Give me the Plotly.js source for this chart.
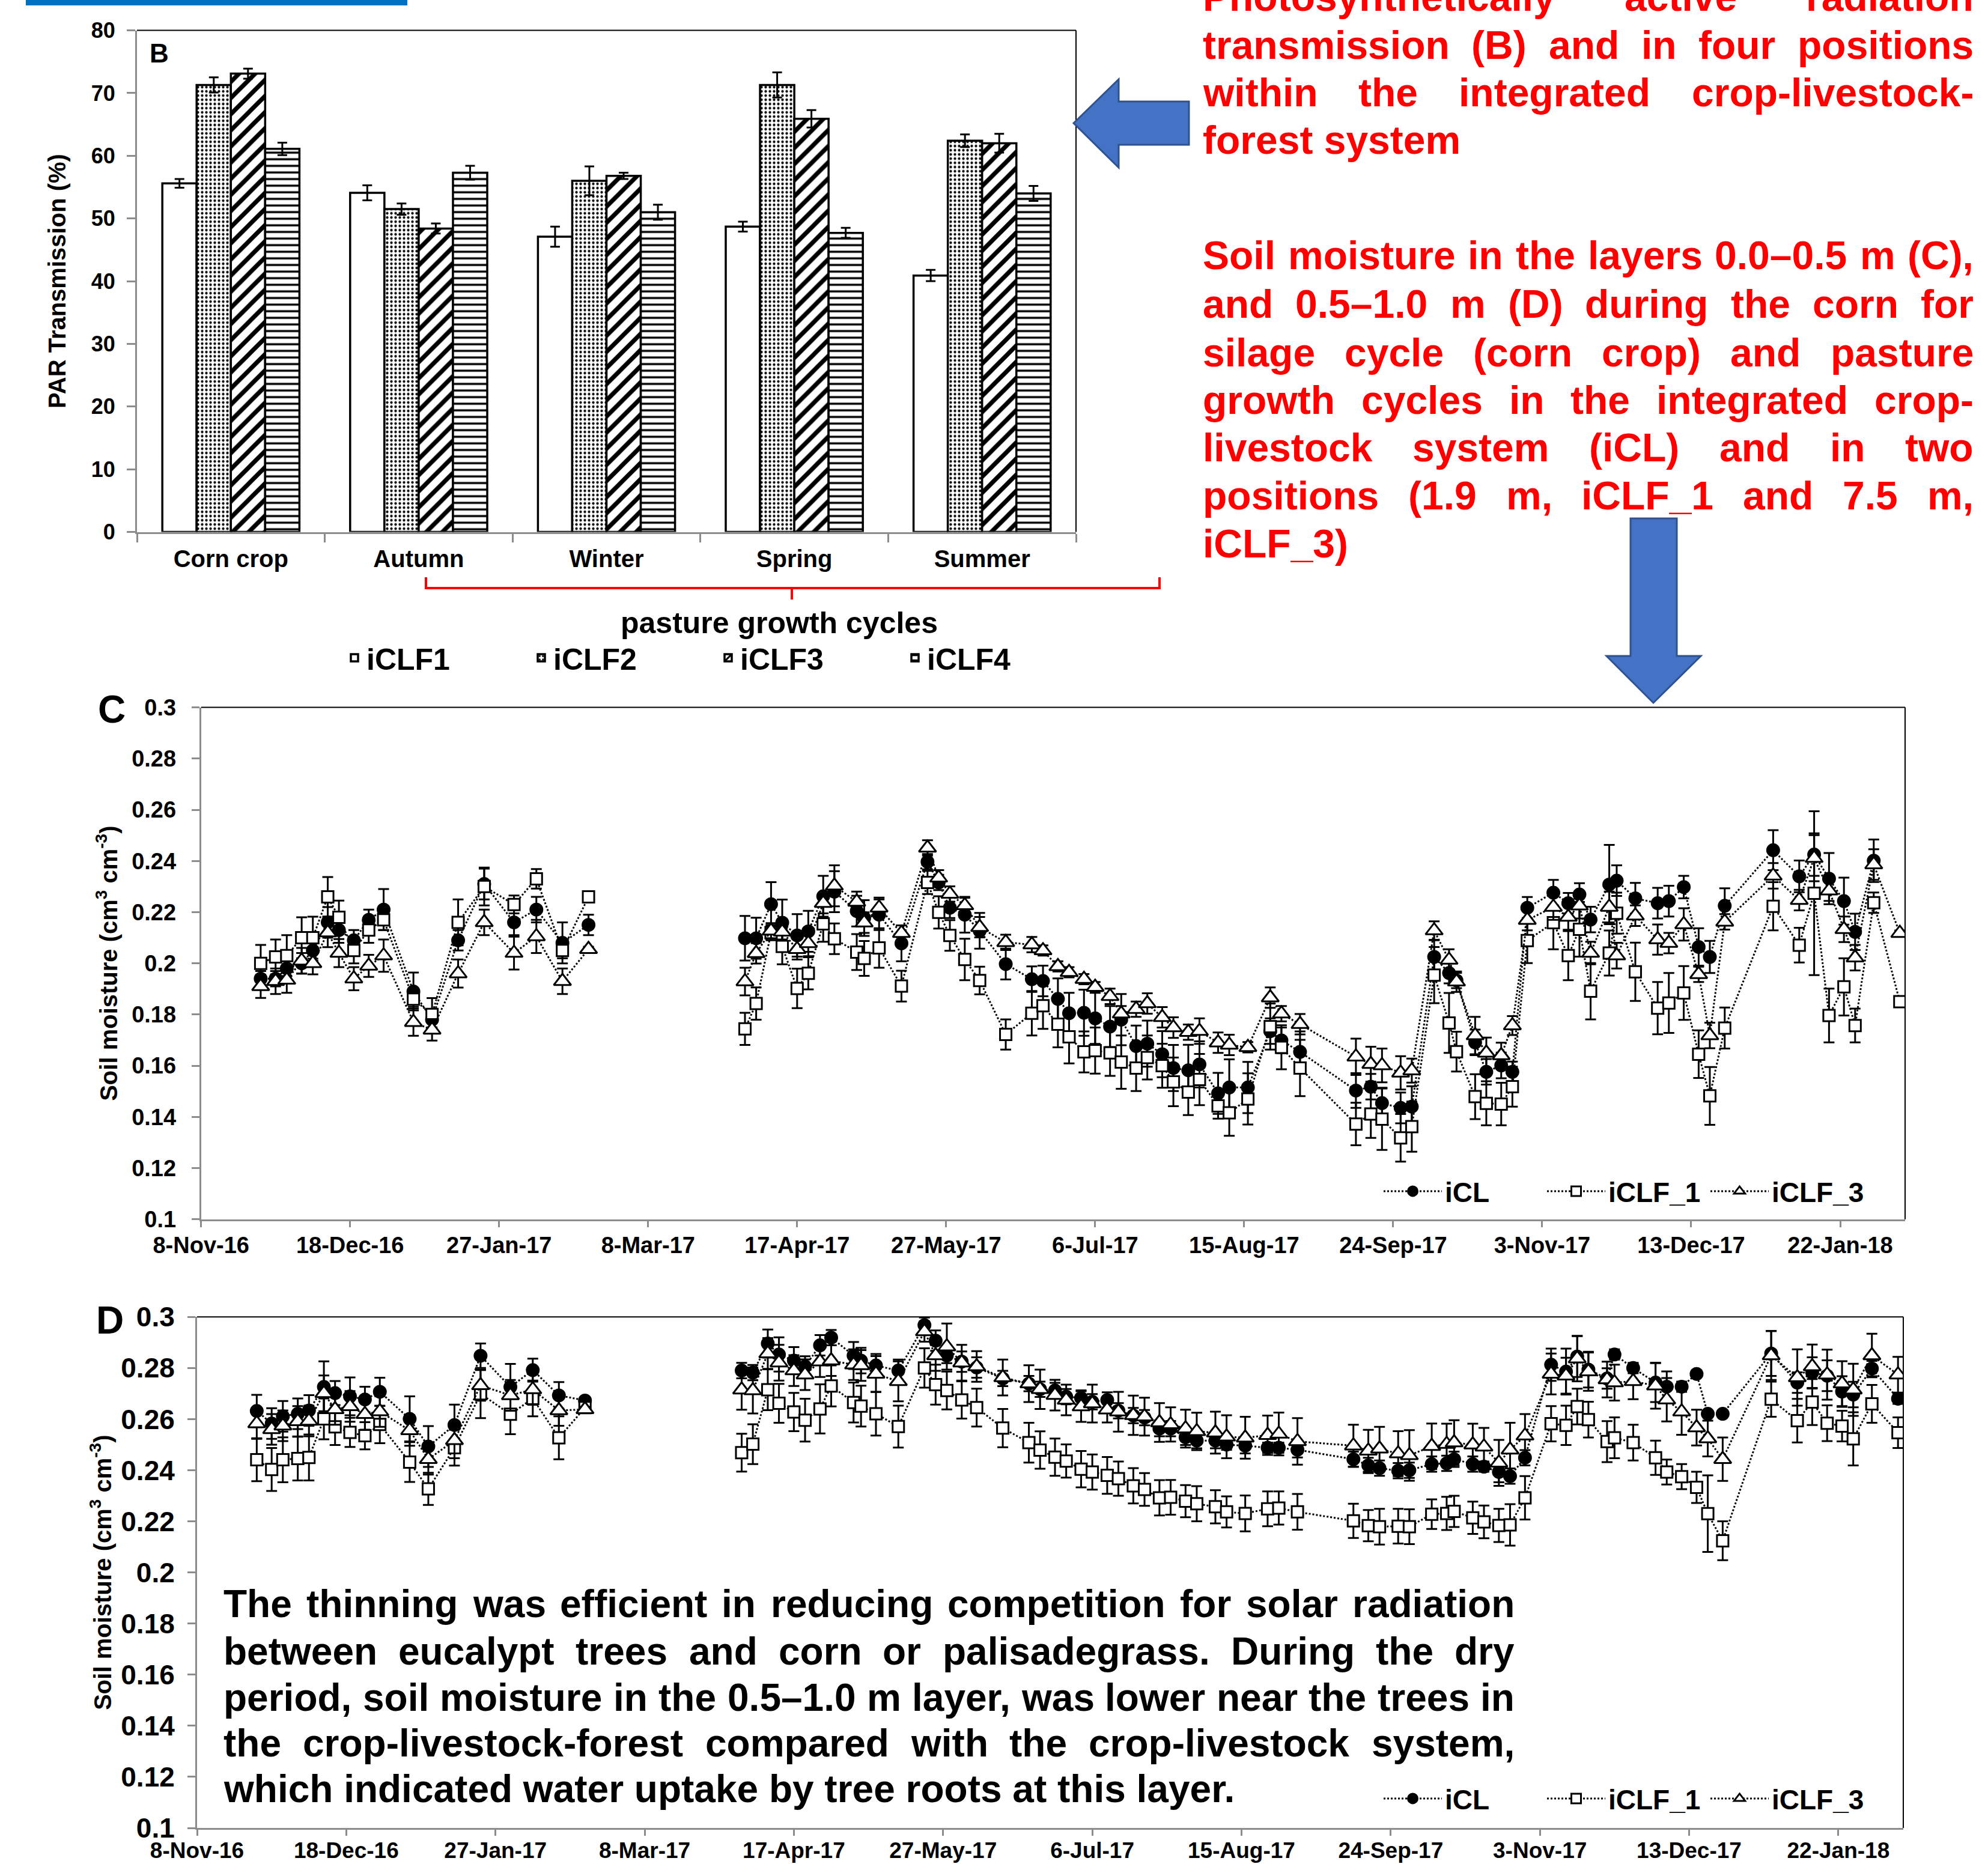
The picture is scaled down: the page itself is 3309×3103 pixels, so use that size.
<!DOCTYPE html>
<html><head><meta charset="utf-8">
<script src="https://cdn.plot.ly/plotly-3.0.1.min.js"></script>
<style>html,body{margin:0;padding:0;background:#fff;overflow:hidden}#chart{width:3309px;height:3103px}</style>
</head><body><div id="chart"></div>
<script>
// ---------------- DATA: panel B (PAR transmission) ----------------
const CATEGORIES = ['Corn crop', 'Autumn', 'Winter', 'Spring', 'Summer'];
const PAR_ICLF1 = [55.6, 54.1, 47.1, 48.7, 40.9];
const PAR_ICLF2 = [71.3, 51.5, 56.0, 71.3, 62.4];
const PAR_ICLF3 = [73.1, 48.4, 56.8, 65.9, 62.0];
const PAR_ICLF4 = [61.1, 57.3, 51.0, 47.7, 54.0];
const PAR_ICLF1_ERR = [0.7, 1.2, 1.6, 0.8, 0.9];
const PAR_ICLF2_ERR = [1.2, 0.9, 2.3, 2.0, 1.0];
const PAR_ICLF3_ERR = [0.8, 0.8, 0.5, 1.4, 1.5];
const PAR_ICLF4_ERR = [1.0, 1.1, 1.2, 0.8, 1.2];
const BAR_NAMES = ['iCLF1', 'iCLF2', 'iCLF3', 'iCLF4'];

// ---------------- DATA: sampling dates (two campaigns) ----------------
const DATES_1 = ['2016-11-24','2016-11-28','2016-12-01','2016-12-05','2016-12-08','2016-12-12','2016-12-15','2016-12-19','2016-12-23','2016-12-27','2017-01-04','2017-01-09','2017-01-16','2017-01-23','2017-01-31','2017-02-06','2017-02-13','2017-02-20'];
const DATES_2 = ['2017-04-03','2017-04-06','2017-04-10','2017-04-13','2017-04-17','2017-04-20','2017-04-24','2017-04-27','2017-05-03','2017-05-05','2017-05-09','2017-05-15','2017-05-22','2017-05-25','2017-05-28','2017-06-01','2017-06-05','2017-06-12','2017-06-19','2017-06-22','2017-06-26','2017-06-29','2017-07-03','2017-07-06','2017-07-10','2017-07-13','2017-07-17','2017-07-20','2017-07-24','2017-07-27','2017-07-31','2017-08-03','2017-08-08','2017-08-11','2017-08-16','2017-08-22','2017-08-25','2017-08-30',
'2017-09-14','2017-09-18','2017-09-21','2017-09-26','2017-09-29','2017-10-05','2017-10-09','2017-10-11','2017-10-16','2017-10-19','2017-10-23','2017-10-26','2017-10-30','2017-11-06','2017-11-10','2017-11-13','2017-11-16','2017-11-21','2017-11-23','2017-11-28','2017-12-04','2017-12-07','2017-12-11','2017-12-15','2017-12-18','2017-12-22','2018-01-04','2018-01-11','2018-01-15','2018-01-19','2018-01-23','2018-01-26','2018-01-31','2018-02-07'];
const SERIES_NAMES = ['iCL', 'iCLF_1', 'iCLF_3'];

// ---------------- DATA: panel C (0.0-0.5 m) ----------------
const C_ICL_1   = [0.194,0.194,0.198,0.200,0.205,0.216,0.213,0.209,0.217,0.221,0.189,0.178,0.209,0.231,0.216,0.221,0.208,0.215];
const C_ICLF1_1 = [0.200,0.2025,0.203,0.210,0.210,0.226,0.218,0.205,0.213,0.217,0.186,0.180,0.216,0.230,0.223,0.233,0.205,0.226];
const C_ICLF3_1 = [0.191,0.193,0.1935,0.201,0.200,0.212,0.204,0.194,0.199,0.203,0.177,0.174,0.196,0.216,0.204,0.2105,0.193,0.2055];
const C_ICL_2 = [0.2098,0.2098,0.2231,0.2159,0.2109,0.2125,0.2262,0.228,0.2204,0.2177,0.219,0.2078,0.2397,0.2316,0.2217,0.2190,0.2127,0.1997,0.1938,0.1931,0.1861,0.1805,0.1807,0.1785,0.1753,0.1780,0.1677,0.1686,0.1645,0.1591,0.1582,0.1605,0.1492,0.1515,0.1515,0.1735,0.1699,0.1654,
 0.1503,0.1518,0.1454,0.1435,0.1440,0.2025,0.1962,0.1933,0.1691,0.1576,0.1601,0.1576,0.2217,0.2276,0.2235,0.2269,0.2171,0.2308,0.2323,0.2254,0.2235,0.2243,0.2298,0.2064,0.2025,0.2225,0.2442,0.2340,0.2425,0.2331,0.2243,0.2123,0.2401,null];
const C_ICLF1_2 = [0.1744,0.1843,0.212,0.2066,0.1902,0.1961,0.2154,0.2096,0.2044,0.2019,0.2060,0.1911,0.2316,0.2199,0.2109,0.2015,0.1933,0.1722,0.1805,0.1834,0.1762,0.1713,0.1654,0.1659,0.1650,0.1614,0.1591,0.1632,0.1600,0.1537,0.1497,0.1546,0.1443,0.1416,0.1470,0.1753,0.1672,0.1591,
 0.1372,0.1411,0.1391,0.1318,0.1362,0.1954,0.1767,0.1655,0.1479,0.1453,0.1450,0.1518,0.2089,0.2159,0.2030,0.2133,0.1891,0.2040,0.2196,0.1967,0.1825,0.1845,0.1884,0.1645,0.1482,0.1747,0.2223,0.2071,0.2274,0.1796,0.1908,0.1757,0.2237,0.1850];
const C_ICLF3_2 = [0.1929,0.2039,0.2127,0.2123,0.2055,0.2078,0.2235,0.2303,0.2240,0.2159,0.2217,0.2118,0.2451,0.2334,0.2271,0.2226,0.2141,0.2082,0.2073,0.2050,0.1988,0.1965,0.1938,0.1907,0.1871,0.1803,0.1821,0.1843,0.1789,0.1749,0.1731,0.1735,0.1690,0.1681,0.1672,0.1866,0.1803,0.1762,
 0.1635,0.1606,0.1601,0.1572,0.1581,0.2128,0.2013,0.1928,0.1718,0.1650,0.1640,0.1757,0.2169,0.2220,0.2181,0.2225,0.2040,0.2220,0.2030,0.2186,0.2093,0.2079,0.2152,0.1957,0.1718,0.2162,0.2342,0.2247,0.2411,0.2284,0.2133,0.2022,0.2386,0.2118];
const C_ICL_E1   = [0.003,0.003,0.003,0.004,0.004,0.006,0.005,0.004,0.004,0.008,0.0074,0.003,0.004,0.006,0.005,0.005,0.008,0.004];
const C_ICLF1_E1 = [0.0072,0.0068,0.008,0.008,0.0082,0.0077,0.0065,0.005,0.005,0.004,0.003,0.0064,0.009,0.0074,0.0035,0.0038,0.003,0.001];
const C_ICLF3_E1 = [0.0045,0.005,0.005,0.005,0.0043,0.0057,0.0055,0.0045,0.0043,0.0063,0.0053,0.0042,0.0055,0.005,0.0064,0.0065,0.005,0.001];
const C_ICL_E2 = [0.0087,0.008,0.0086,0.009,0.0083,0.008,0.008,0.008,0.006,0.007,0.006,0.007,0.003,0.003,0.004,0.007,0.007,0.006,0.005,0.006,0.008,0.008,0.009,0.01,0.008,0.01,0.008,0.009,0.009,0.009,0.01,0.009,0.008,0.011,0.01,0.005,0.005,0.008,
 0.0068,0.005,0.006,0.006,0.008,0.0065,0.004,0.003,0.005,0.005,0.005,0.004,0.0042,0.005,0.004,0.0044,0.005,0.0155,0.006,0.006,0.006,0.006,0.0044,0.0073,0.0063,0.0068,0.0078,0.0062,0.0083,0.01,0.0092,0.0071,0.0083,0];
const C_ICLF1_E2 = [0.0063,0.0063,0.003,0.007,0.0077,0.0063,0.007,0.006,0.007,0.0068,0.0077,0.006,0.0045,0.0063,0.006,0.0081,0.0054,0.0059,0.0087,0.009,0.009,0.0104,0.008,0.009,0.009,0.0104,0.009,0.0086,0.0086,0.0095,0.009,0.01,0.005,0.009,0.01,0.009,0.0086,0.011,
 0.0083,0.0093,0.012,0.0093,0.0098,0.011,0.0117,0.0078,0.0088,0.0086,0.0083,0.0078,0.0088,0.0104,0.0096,0.0107,0.011,0.0088,0.008,0.0114,0.0102,0.0117,0.0105,0.0093,0.0113,0.008,0.0094,0.0068,0.032,0.0105,0.0112,0.0066,0.004,0.001];
const C_ICLF3_E2 = [0.0054,0.004,0.003,0.003,0.004,0.005,0.004,0.008,0.004,0.004,0.004,0.003,0.003,0.003,0.003,0.003,0.004,0.003,0.003,0.002,0.002,0.002,0.002,0.002,0.003,0.003,0.003,0.004,0.004,0.004,0.003,0.005,0.004,0.004,0.002,0.004,0.003,0.004,
 0.0071,0.0068,0.0066,0.0065,0.0047,0.0036,0.0042,0.004,0.0073,0.006,0.005,0.0037,0.004,0.005,0.005,0.005,0.0044,0.006,0.005,0.004,0.0059,0.004,0.0063,0.003,0.005,0.003,0.005,0.004,0.009,0.004,0.005,0.005,0.006,0.001];

// ---------------- DATA: panel D (0.5-1.0 m) ----------------
const D_ICL_1   = [0.2632,0.2583,0.2611,0.2621,0.2634,0.2726,0.2702,0.2689,0.2677,0.2707,0.2601,0.2493,0.2577,0.2848,0.2726,0.2792,0.2693,0.2673];
const D_ICLF1_1 = [0.2441,0.2403,0.2441,0.2446,0.2450,0.2601,0.2570,0.2548,0.2535,0.2579,0.2432,0.2327,0.2488,0.2699,0.2619,0.2681,0.2527,0.2645];
const D_ICLF3_1 = [0.2583,0.2560,0.2574,0.2591,0.2593,0.2701,0.2638,0.2650,0.2619,0.2630,0.2556,0.2443,0.2517,0.2732,0.2693,0.2716,0.2634,0.2638];
const D_ICL_2 = [0.2790,0.2782,0.2896,0.2853,0.2829,0.2806,0.2889,0.2919,0.2849,0.2829,0.2810,0.2790,0.2968,0.2907,0.2849,0.2825,0.2802,0.2759,0.2739,0.2717,0.2712,0.2688,0.2683,0.2668,0.2675,0.2633,0.2614,0.2606,0.2563,0.2563,0.2529,0.2516,0.2516,0.2500,0.2496,0.2488,0.2488,0.2480,
 0.2443,0.2419,0.2408,0.2398,0.2400,0.2424,0.2427,0.2443,0.2424,0.2414,0.2393,0.2377,0.2449,0.2813,0.2786,0.2845,0.2794,0.2759,0.2853,0.2800,0.2743,0.2727,0.2727,0.2777,0.2621,0.2621,0.2857,0.2743,0.2782,0.2770,0.2708,0.2696,0.2798,0.2680];
const D_ICLF1_2 = [0.2469,0.2502,0.2715,0.2662,0.2628,0.2596,0.2640,0.2730,0.2665,0.2651,0.2621,0.2571,0.2800,0.2735,0.2712,0.2675,0.2645,0.2565,0.2508,0.2479,0.2451,0.2436,0.2404,0.2393,0.2380,0.2367,0.2339,0.2325,0.2292,0.2294,0.2279,0.2269,0.2257,0.2237,0.2231,0.2249,0.2252,0.2237,
 0.2202,0.2183,0.2179,0.2181,0.2179,0.2228,0.2231,0.2239,0.2214,0.2198,0.2184,0.2186,0.2292,0.2582,0.2576,0.2649,0.2598,0.2512,0.2527,0.2508,0.2449,0.2393,0.2375,0.2333,0.2230,0.2124,0.2678,0.2594,0.2667,0.2584,0.2573,0.2523,0.2660,0.2547];
const D_ICLF3_2 = [0.2715,0.2712,0.2857,0.2821,0.2790,0.2774,0.2825,0.2829,0.2813,0.2810,0.2777,0.2748,0.2943,0.2849,0.2884,0.2821,0.2806,0.2763,0.2739,0.2717,0.2694,0.2675,0.2649,0.2661,0.2637,0.2629,0.2615,0.2610,0.2587,0.2579,0.2563,0.2552,0.2547,0.2531,0.2527,0.2537,0.2542,0.2513,
 0.2496,0.2476,0.2484,0.2465,0.2458,0.2494,0.2502,0.2508,0.2500,0.2492,0.2429,0.2480,0.2535,0.2777,0.2770,0.2837,0.2786,0.2755,0.2743,0.2748,0.2731,0.2676,0.2629,0.2567,0.2524,0.2443,0.2849,0.2763,0.2806,0.2774,0.2739,0.2715,0.2849,0.2774];
const D_ICL_E1   = [0.0063,0.006,0.006,0.006,0.006,0.010,0.0047,0.0074,0.005,0.0055,0.0088,0.008,0.008,0.0048,0.009,0.0045,0.0052,0.001];
const D_ICLF1_E1 = [0.0084,0.0084,0.0088,0.0086,0.009,0.008,0.0071,0.0057,0.0053,0.0073,0.0078,0.0063,0.007,0.0095,0.0078,0.007,0.0084,0.001];
const D_ICLF3_E1 = [0.006,0.006,0.006,0.006,0.006,0.007,0.006,0.006,0.006,0.006,0.006,0.006,0.007,0.006,0.006,0.006,0.006,0.001];
const D_ICL_E2 = [0.003,0.003,0.0055,0.0067,0.0053,0.004,0.004,0.003,0.0053,0.005,0.0045,0.0043,0.003,0.004,0.003,0.004,0.004,0.003,0.003,0.003,0.003,0.003,0.003,0.003,0.003,0.003,0.003,0.003,0.003,0.003,0.003,0.003,0.003,0.002,0.003,0.002,0.002,0.003,
 0.003,0.003,0.003,0.003,0.003,0.003,0.003,0.003,0.003,0.002,0.004,0.003,0.003,0.0063,0.009,0.008,0.007,0.004,0.002,0.002,0.0076,0.006,0.002,0.001,0.001,0.001,0.0088,0.004,0.006,0.006,0.006,0.005,0.003,0.002];
const D_ICLF1_E2 = [0.0074,0.0078,0.008,0.0076,0.0075,0.0084,0.0096,0.008,0.0078,0.008,0.0085,0.0082,0.0077,0.0078,0.0074,0.0073,0.0074,0.0075,0.0078,0.0073,0.0073,0.0065,0.0071,0.0069,0.0072,0.0067,0.0069,0.0064,0.0069,0.0068,0.0063,0.0069,0.0065,0.0061,0.007,0.0068,0.0065,0.007,
 0.0067,0.0061,0.007,0.0068,0.0068,0.0058,0.0065,0.0061,0.0063,0.0064,0.0065,0.0081,0.0085,0.0069,0.0077,0.007,0.007,0.008,0.008,0.007,0.0067,0.0049,0.0049,0.0061,0.015,0.0076,0.0069,0.0085,0.009,0.007,0.006,0.0104,0.0074,0.006];
const D_ICLF3_E2 = [0.0078,0.009,0.006,0.007,0.006,0.006,0.006,0.006,0.006,0.006,0.007,0.0078,0.004,0.006,0.009,0.007,0.006,0.007,0.0072,0.0077,0.006,0.006,0.006,0.0074,0.005,0.0078,0.0077,0.0074,0.0076,0.0067,0.0074,0.0073,0.0082,0.0084,0.0082,0.0077,0.0084,0.0091,
 0.0082,0.0082,0.0086,0.0088,0.0099,0.0089,0.008,0.0088,0.0082,0.0074,0.009,0.0106,0.0085,0.008,0.007,0.0089,0.0075,0.007,0.007,0.007,0.009,0.0085,0.009,0.007,0.007,0.0085,0.0096,0.011,0.0086,0.0098,0.0088,0.0102,0.0085,0.007];

// ---------------- TEXT ----------------
const RED_LINES = [
  {t: 'Photosynthetically active radiation', y: -5, j: true},
  {t: 'transmission (B) and in four positions', y: 75, j: true},
  {t: 'within the integrated crop-livestock-', y: 154, j: true},
  {t: 'forest system', y: 233, j: false},
  {t: 'Soil moisture in the layers 0.0–0.5 m (C),', y: 425, j: true},
  {t: 'and 0.5–1.0 m (D) during the corn for', y: 506, j: true},
  {t: 'silage cycle (corn crop) and pasture', y: 587, j: true},
  {t: 'growth cycles in the integrated crop-', y: 666, j: true},
  {t: 'livestock system (iCL) and in two', y: 745, j: true},
  {t: 'positions (1.9 m, iCLF_1 and 7.5 m,', y: 825, j: true},
  {t: 'iCLF_3)', y: 905, j: false}
];
const D_LINES = [
  {t: 'The thinning was efficient in reducing competition for solar radiation', y: 2670, j: true},
  {t: 'between eucalypt trees and corn or palisadegrass. During the dry', y: 2749, j: true},
  {t: 'period, soil moisture in the 0.5–1.0 m layer, was lower near the trees in', y: 2826, j: true},
  {t: 'the crop-livestock-forest compared with the crop-livestock system,', y: 2902, j: true},
  {t: 'which indicated water uptake by tree roots at this layer.', y: 2978, j: false}
];

// ---------------- LAYOUT HELPERS ----------------
const W = 3309, H = 3103;
const FONT = '"Liberation Sans", Arial, sans-serif';
const GRAY = '#8c8c8c';
const px = x => x / W;
const py = y => 1 - y / H;
const f = (size, color) => ({family: FONT, size: size, color: color || '#000', weight: 'bold'});

const traces = [];

// Bars (panel B)
const barVals = [PAR_ICLF1, PAR_ICLF2, PAR_ICLF3, PAR_ICLF4];
const barErrs = [PAR_ICLF1_ERR, PAR_ICLF2_ERR, PAR_ICLF3_ERR, PAR_ICLF4_ERR];
const patterns = [
  null,
  {shape: '.', size: 7, solidity: 0.3, fgcolor: '#000', bgcolor: '#fff', fillmode: 'replace'},
  {shape: '/', size: 19, solidity: 0.38, fgcolor: '#000', bgcolor: '#fff', fillmode: 'replace'},
  {shape: '-', size: 11, solidity: 0.32, fgcolor: '#000', bgcolor: '#fff', fillmode: 'replace'}
];
BAR_NAMES.forEach((name, i) => {
  const marker = {color: '#fff', line: {color: '#000', width: 3.5}};
  if (patterns[i]) marker.pattern = patterns[i];
  traces.push({
    type: 'bar', name: name, x: CATEGORIES, y: barVals[i], xaxis: 'x', yaxis: 'y', legend: 'legend',
    marker: marker,
    error_y: {type: 'data', array: barErrs[i], visible: true, color: '#000', thickness: 3, width: 8}
  });
});

// Soil moisture (panels C and D)
const SYMBOLS = ['circle', 'square', 'triangle-up'];
const FILLS = ['#000', '#fff', '#fff'];
const SIZES = [20, 19, 25];
function soil(seg1, seg2, err1, err2, k, xa, ya, leg) {
  traces.push({
    type: 'scatter', mode: 'lines+markers', name: SERIES_NAMES[k],
    x: DATES_1.concat([null], DATES_2),
    y: seg1.concat([null], seg2),
    xaxis: xa, yaxis: ya, legend: leg, connectgaps: false,
    line: {color: '#000', width: 3, dash: 'dot'},
    marker: {symbol: SYMBOLS[k], size: SIZES[k], color: FILLS[k], line: {color: '#000', width: 3}},
    error_y: {type: 'data', array: err1.concat([0], err2), visible: true, color: '#000', thickness: 3, width: 9}
  });
}
soil(C_ICL_1, C_ICL_2, C_ICL_E1, C_ICL_E2, 0, 'x2', 'y2', 'legend2');
soil(C_ICLF1_1, C_ICLF1_2, C_ICLF1_E1, C_ICLF1_E2, 1, 'x2', 'y2', 'legend2');
soil(C_ICLF3_1, C_ICLF3_2, C_ICLF3_E1, C_ICLF3_E2, 2, 'x2', 'y2', 'legend2');
soil(D_ICL_1, D_ICL_2, D_ICL_E1, D_ICL_E2, 0, 'x3', 'y3', 'legend3');
soil(D_ICLF1_1, D_ICLF1_2, D_ICLF1_E1, D_ICLF1_E2, 1, 'x3', 'y3', 'legend3');
soil(D_ICLF3_1, D_ICLF3_2, D_ICLF3_E1, D_ICLF3_E2, 2, 'x3', 'y3', 'legend3');

// ---------------- ANNOTATIONS ----------------
const annotations = [];
const ctx = document.createElement('canvas').getContext('2d');
function measure(t, size) { ctx.font = 'bold ' + size + 'px ' + FONT; return ctx.measureText(t).width; }
function ann(t, x, y, size, color, xanchor) {
  return {xref: 'paper', yref: 'paper', x: px(x), y: py(y), xanchor: xanchor || 'left', yanchor: 'middle',
          text: t, showarrow: false, font: f(size, color), borderpad: 0, borderwidth: 0};
}
function textBlock(lines, x0, x1, size, color) {
  lines.forEach(L => {
    if (!L.j) { annotations.push(ann(L.t, x0, L.y, size, color)); return; }
    const words = L.t.split(' ');
    const ws = words.map(w => measure(w, size));
    const total = ws.reduce((a, b) => a + b, 0);
    const gap = (x1 - x0 - total) / (words.length - 1);
    let x = x0;
    words.forEach((w, i) => { annotations.push(ann(w, x, L.y, size, color)); x += ws[i] + gap; });
  });
}
textBlock(RED_LINES, 2002, 3285, 66, '#ff0000');
textBlock(D_LINES, 372, 2521, 64, '#000');
annotations.push(ann('B', 249, 88, 44));
annotations.push(ann('C', 163, 1181, 64));
annotations.push(ann('D', 160, 2198, 64));
annotations.push(ann('pasture growth cycles', 1297, 1037, 50, '#000', 'center'));

// ---------------- SHAPES ----------------
function path(pts) { return 'M' + pts.map(p => px(p[0]) + ',' + py(p[1])).join(' L') + ' Z'; }
function line(x0, y0, x1, y1, color, width) {
  return {type: 'line', xref: 'paper', yref: 'paper', x0: px(x0), y0: py(y0), x1: px(x1), y1: py(y1), line: {color: color, width: width}};
}
const shapes = [
  {type: 'rect', xref: 'paper', yref: 'paper', x0: px(43), x1: px(678), y0: py(0), y1: py(9), fillcolor: '#0070c0', line: {width: 0}},
  line(228, 50.6, 1791, 50.6, '#000', 2), line(1791, 50.6, 1791, 885.5, '#000', 2),
  line(334.7, 1177.6, 3171, 1177.6, '#000', 2), line(3171, 1177.6, 3171, 2029.7, '#000', 2),
  line(328, 2192.3, 3168, 2192.3, '#000', 2), line(3168, 2192.3, 3168, 3043, '#000', 2),
  {type: 'path', xref: 'paper', yref: 'paper', path: 'M' + px(709) + ',' + py(961) + ' L' + px(709) + ',' + py(979) + ' L' + px(1930) + ',' + py(979) + ' L' + px(1930) + ',' + py(961), line: {color: '#ff0000', width: 4}},
  line(1318, 979, 1318, 998, '#ff0000', 4),
  {type: 'path', xref: 'paper', yref: 'paper', path: path([[1787, 205], [1862, 132], [1862, 169], [1979, 169], [1979, 241], [1862, 241], [1862, 279]]), fillcolor: '#4472c4', line: {color: '#2f528f', width: 3}},
  {type: 'path', xref: 'paper', yref: 'paper', path: path([[2714, 863], [2791, 863], [2791, 1092], [2831, 1092], [2752, 1170], [2674, 1092], [2714, 1092]]), fillcolor: '#4472c4', line: {color: '#2f528f', width: 3}}
];

// ---------------- AXES ----------------
const dateAxis = (d0, d1, stand, tsize) => ({
  type: 'date', domain: [px(d0), px(d1)], range: ['2016-11-08', '2018-02-08 10:00'],
  tick0: '2016-11-08', dtick: 40 * 86400000, tickformat: '%-d-%b-%y',
  showline: true, linecolor: GRAY, linewidth: 3, ticks: 'outside', ticklen: 10, tickwidth: 3, tickcolor: GRAY,
  tickfont: f(tsize), ticklabelstandoff: stand, showgrid: false, zeroline: false
});
const soilY = (top, bottom, tsize, standoff, lstand) => ({
  domain: [py(bottom), py(top)], range: [0.1, 0.3], dtick: 0.02,
  showline: true, linecolor: GRAY, linewidth: 3, ticks: 'outside', ticklen: 13, tickwidth: 3, tickcolor: GRAY,
  tickfont: f(tsize), ticklabelstandoff: lstand, showgrid: false, zeroline: false,
  title: {text: 'Soil moisture (cm<sup>3</sup> cm<sup>-3</sup>)', font: f(40), standoff: standoff}
});

const layout = {
  width: W, height: H, margin: {l: 0, r: 0, t: 0, b: 0, pad: 0},
  paper_bgcolor: '#fff', plot_bgcolor: '#fff',
  font: f(36),
  barmode: 'group', bargap: 0.27, bargroupgap: 0,
  xaxis: {domain: [px(228), px(1791)], anchor: 'y', type: 'category', range: [-0.5, 4.5],
          showline: true, linecolor: GRAY, linewidth: 3, ticks: 'outside', tickson: 'boundaries', ticklen: 14, tickwidth: 3, tickcolor: GRAY,
          tickfont: f(40), ticklabelstandoff: 7, showgrid: false, zeroline: false},
  yaxis: {domain: [py(885.5), py(50.6)], anchor: 'x', range: [0, 80], dtick: 10,
          showline: true, linecolor: GRAY, linewidth: 3, ticks: 'outside', ticklen: 14, tickwidth: 3, tickcolor: GRAY,
          tickfont: f(36), ticklabelstandoff: 12, showgrid: false, zeroline: false,
          title: {text: 'PAR Transmission (%)', font: f(40), standoff: 30}},
  xaxis2: Object.assign(dateAxis(334.7, 3171, -2, 38), {anchor: 'y2'}),
  yaxis2: Object.assign(soilY(1177.6, 2029.7, 38, 12, 18), {anchor: 'x2'}),
  xaxis3: Object.assign(dateAxis(328, 3168, -7, 37), {anchor: 'y3'}),
  yaxis3: Object.assign(soilY(2192.3, 3043, 46, 4, 12), {anchor: 'x3'}),
  legend: {orientation: 'h', x: px(570), y: py(1095), xanchor: 'left', yanchor: 'middle',
           font: f(50), bgcolor: 'rgba(0,0,0,0)', entrywidth: 266, entrywidthmode: 'pixels', itemwidth: 30, traceorder: 'normal'},
  legend2: {orientation: 'h', x: px(2298), y: py(1983), xanchor: 'left', yanchor: 'middle',
            font: f(46), bgcolor: 'rgba(0,0,0,0)', itemwidth: 97, entrywidth: 160, entrywidthmode: 'pixels', traceorder: 'normal'},
  legend3: {orientation: 'h', x: px(2298), y: py(2994), xanchor: 'left', yanchor: 'middle',
            font: f(46), bgcolor: 'rgba(0,0,0,0)', itemwidth: 97, entrywidth: 160, entrywidthmode: 'pixels', traceorder: 'normal'},
  annotations: annotations,
  shapes: shapes,
  showlegend: true
};

Plotly.newPlot('chart', traces, layout, {displayModeBar: false, staticPlot: true});
</script>
</body></html>
